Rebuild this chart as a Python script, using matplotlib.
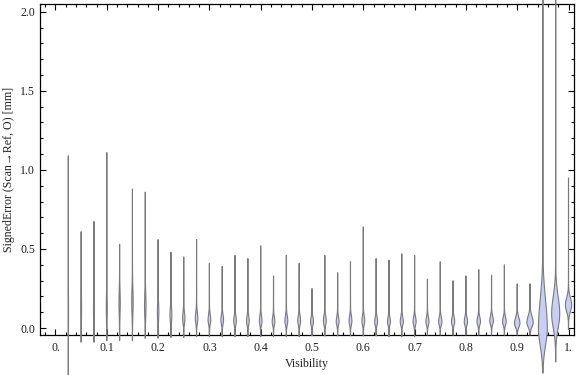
import matplotlib.pyplot as plt
import numpy as np
from matplotlib.ticker import MultipleLocator

plt.rcParams["font.family"] = ["Liberation Serif", "DejaVu Serif"]
plt.rcParams["font.size"] = 8.6

# one violin per visibility bin
visibility = [0.025, 0.05, 0.075, 0.1, 0.125, 0.15, 0.175, 0.2, 0.225, 0.25,
              0.275, 0.3, 0.325, 0.35, 0.375, 0.4, 0.425, 0.45, 0.475, 0.5,
              0.525, 0.55, 0.575, 0.6, 0.625, 0.65, 0.675, 0.7, 0.725, 0.75,
              0.775, 0.8, 0.825, 0.85, 0.875, 0.9, 0.925, 0.95, 0.975, 1.0]
err_max = [1.09, 0.61, 0.675, 1.11, 0.53, 0.88, 0.86, 0.56, 0.48, 0.45,
           0.56, 0.41, 0.39, 0.46, 0.44, 0.52, 0.33, 0.46, 0.41, 0.25,
           0.46, 0.35, 0.42, 0.64, 0.44, 0.43, 0.47, 0.46, 0.31, 0.42,
           0.30, 0.33, 0.37, 0.335, 0.40, 0.28, 0.28, 2.4, 2.4, 0.95]
err_min = [-0.30, -0.09, -0.09, -0.08, -0.08, -0.08, -0.065, -0.065, -0.06, -0.06,
           -0.055, -0.055, -0.055, -0.055, -0.055, -0.055, -0.055, -0.055, -0.055, -0.05,
           -0.05, -0.05, -0.05, -0.05, -0.05, -0.055, -0.055, -0.055, -0.045, -0.045,
           -0.045, -0.045, -0.045, -0.045, -0.045, -0.045, -0.045, -0.285, -0.215, -0.01]
# most likely error in each bin and spread of the density below / above it
err_mode = [0.10, 0.12, 0.12, 0.12, 0.16, 0.17, 0.14, 0.10, 0.08, 0.06,
            0.06, 0.05, 0.05, 0.045, 0.045, 0.045, 0.04, 0.045, 0.045, 0.04,
            0.045, 0.04, 0.045, 0.045, 0.04, 0.04, 0.04, 0.04, 0.04, 0.04,
            0.04, 0.04, 0.04, 0.045, 0.04, 0.03, 0.035, 0.0, 0.09, 0.145]
spread_lo = [0.10, 0.08, 0.08, 0.08, 0.08, 0.08, 0.07, 0.05, 0.04, 0.03,
             0.03, 0.025, 0.025, 0.025, 0.025, 0.025, 0.022, 0.025, 0.025, 0.022,
             0.025, 0.022, 0.025, 0.025, 0.022, 0.022, 0.022, 0.022, 0.022, 0.022,
             0.022, 0.022, 0.022, 0.022, 0.022, 0.025, 0.028, 0.11, 0.09, 0.04]
spread_hi = [0.15, 0.10, 0.10, 0.10, 0.08, 0.08, 0.08, 0.06, 0.05, 0.04,
             0.04, 0.035, 0.032, 0.032, 0.032, 0.032, 0.03, 0.032, 0.032, 0.03,
             0.032, 0.03, 0.032, 0.032, 0.03, 0.03, 0.03, 0.03, 0.03, 0.03,
             0.03, 0.03, 0.03, 0.03, 0.03, 0.035, 0.04, 0.18, 0.11, 0.045]
peak_density = [0.1, 0.3, 0.35, 0.35, 0.5, 0.6, 0.6, 0.6, 0.8, 1.0,
                1.1, 1.2, 1.2, 1.2, 1.2, 1.2, 1.2, 1.3, 1.3, 1.3,
                1.3, 1.3, 1.3, 1.3, 1.3, 1.3, 1.4, 1.4, 1.4, 1.5,
                1.5, 1.5, 1.6, 1.7, 1.7, 2.6, 3.0, 4.3, 3.9, 3.0]

x_tick_values = [0.0, 0.1, 0.2, 0.3, 0.4, 0.5, 0.6, 0.7, 0.8, 0.9, 1.0]
x_tick_labels = ["0.", "0.1", "0.2", "0.3", "0.4", "0.5", "0.6", "0.7", "0.8", "0.9", "1."]
y_tick_values = [0.0, 0.5, 1.0, 1.5, 2.0]
y_tick_labels = ["0.0", "0.5", "1.0", "1.5", "2.0"]

FILL = "#c8cef5"
EDGE = "#7a7a7a"

fig = plt.figure(figsize=(5.76, 3.75), dpi=100)
ax = fig.add_axes([40 / 576, 40 / 375, 534 / 576, 331 / 375])
ax.set_xlim(-0.0302, 1.0107)
ax.set_ylim(-0.044, 2.049)

px = 1.0409 / 534  # data units of one pixel along x

for x0, lo, hi, m, slo, shi, pk in zip(visibility, err_min, err_max, err_mode,
                                        spread_lo, spread_hi, peak_density):
    ys = np.linspace(lo, hi, 400)
    s = np.where(ys < m, slo, shi)
    half = pk * np.exp(-0.5 * ((ys - m) / s) ** 2) + 0.15 * np.exp(-np.abs(ys - m) / 0.2)
    half = half * px
    xs = np.concatenate([x0 - half, (x0 + half)[::-1]])
    yy = np.concatenate([ys, ys[::-1]])
    ax.fill(xs, yy, facecolor=FILL, edgecolor=EDGE, linewidth=0.8, clip_on=False, zorder=3)

ax.set_xticks(x_tick_values)
ax.set_xticklabels(x_tick_labels)
ax.set_yticks(y_tick_values)
ax.set_yticklabels(y_tick_labels)
ax.xaxis.set_minor_locator(MultipleLocator(0.02))
ax.yaxis.set_minor_locator(MultipleLocator(0.1))
ax.tick_params(which="both", direction="in", top=True, right=True, width=0.8,
               colors="black", labelcolor="#222222")
ax.tick_params(which="major", length=4.5)
ax.tick_params(which="minor", length=2.5)
ax.tick_params(axis="x", pad=5)
ax.tick_params(axis="y", pad=3.5)
for spine in ax.spines.values():
    spine.set_linewidth(0.9)

ax.set_xlabel("Visibility", color="#222222")
ax.set_ylabel("SignedError (Scan\u2192Ref, O) [mm]", color="#222222")
ax.xaxis.set_label_coords(0.5, -0.068)
ax.yaxis.set_label_coords(-0.047, 0.5)

fig.savefig("out.png", dpi=100)
